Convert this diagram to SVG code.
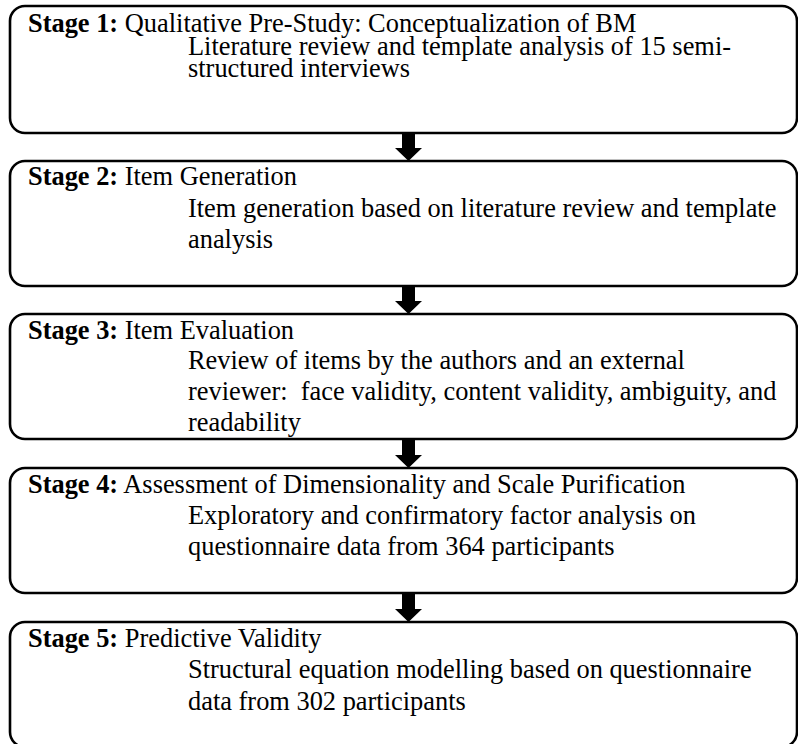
<svg xmlns="http://www.w3.org/2000/svg" width="798" height="744" viewBox="0 0 798 744">
<style>
.box{fill:#fff;stroke:#000;stroke-width:2.6}
.t{font-family:"Liberation Serif","Times New Roman",serif;font-size:26.4px;fill:#000}
.b{font-weight:bold}
.arr{fill:#000;stroke:none}
</style>
<rect width="798" height="744" fill="#fff"/>
<g id="stage1">
<rect class="box" x="10" y="6" width="787" height="127" rx="15" ry="15"/>
<text class="t" x="28" y="31.5"><tspan class="b">Stage 1:</tspan> Qualitative Pre-Study: Conceptualization of BM</text>
<text class="t" x="188" y="54.5">Literature review and template analysis of 15 semi-</text>
<text class="t" x="188" y="77">structured interviews</text>
</g>
<g id="stage2">
<rect class="box" x="10" y="161" width="787" height="125" rx="15" ry="15"/>
<text class="t" x="28" y="185"><tspan class="b">Stage 2:</tspan> Item Generation</text>
<text class="t" x="188" y="216.5">Item generation based on literature review and template</text>
<text class="t" x="188" y="248">analysis</text>
</g>
<g id="stage3">
<rect class="box" x="10" y="314" width="787" height="125" rx="15" ry="15"/>
<text class="t" x="28" y="338.5"><tspan class="b">Stage 3:</tspan> Item Evaluation</text>
<text class="t" x="188" y="369">Review of items by the authors and an external</text>
<text class="t" x="188" y="400" xml:space="preserve">reviewer:  face validity, content validity, ambiguity, and</text>
<text class="t" x="188" y="431">readability</text>
</g>
<g id="stage4">
<rect class="box" x="10" y="468" width="787" height="125" rx="15" ry="15"/>
<text class="t" x="28" y="492.5"><tspan class="b">Stage 4:</tspan> Assessment of Dimensionality and Scale Purification</text>
<text class="t" x="188" y="523.5">Exploratory and confirmatory factor analysis on</text>
<text class="t" x="188" y="554.5">questionnaire data from 364 participants</text>
</g>
<g id="stage5">
<rect class="box" x="10" y="622" width="787" height="125" rx="15" ry="15"/>
<text class="t" x="28" y="646.5"><tspan class="b">Stage 5:</tspan> Predictive Validity</text>
<text class="t" x="188" y="678">Structural equation modelling based on questionnaire</text>
<text class="t" x="188" y="709.5">data from 302 participants</text>
</g>
<g id="connectors">
<path class="arr" d="M402,133 H415 V148 H422 L408.5,161 L395,148 H402 Z"/>
<path class="arr" d="M402,286 H415 V301 H422 L408.5,314 L395,301 H402 Z"/>
<path class="arr" d="M402,439 H415 V455 H422 L408.5,468 L395,455 H402 Z"/>
<path class="arr" d="M402,593 H415 V609 H422 L408.5,622 L395,609 H402 Z"/>
</g>
</svg>
